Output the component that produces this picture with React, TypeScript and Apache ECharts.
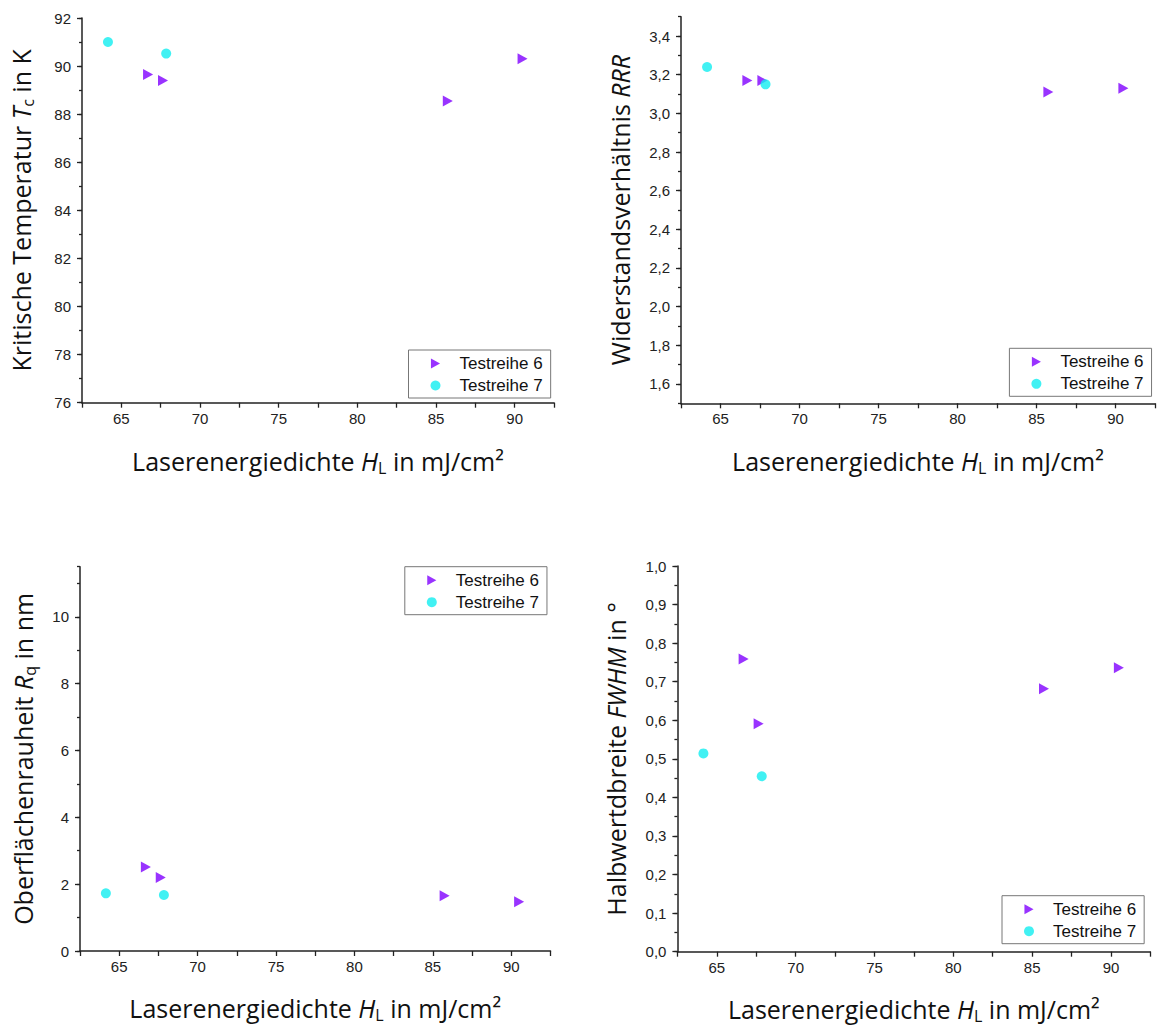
import React, { useEffect, useRef } from 'react';
import * as echarts from 'echarts';

// ---------- data ----------
const seriesNames = ['Testreihe 6', 'Testreihe 7'];
const hTR6 = [66.7, 67.65, 85.75, 90.5];
const hTR7 = [64.15, 67.85];
const tcTR6 = [89.65, 89.4, 88.55, 90.3];
const tcTR7 = [91.0, 90.52];
const rrrTR6 = [3.17, 3.17, 3.11, 3.13];
const rrrTR7 = [3.24, 3.15];
const rqTR6 = [2.51, 2.2, 1.655, 1.475];
const rqTR7 = [1.725, 1.675];
const fwhmTR6 = [0.759, 0.591, 0.682, 0.736];
const fwhmTR7 = [0.514, 0.455];

const xTickLabels = [65, 70, 75, 80, 85, 90];
const tcTickLabels = [76, 78, 80, 82, 84, 86, 88, 90, 92];
const rrrTickLabels = [1.6, 1.8, 2.0, 2.2, 2.4, 2.6, 2.8, 3.0, 3.2, 3.4];
const rqTickLabels = [0, 2, 4, 6, 8, 10];
const fwhmTickLabels = [0, 0.1, 0.2, 0.3, 0.4, 0.5, 0.6, 0.7, 0.8, 0.9, 1.0];

const C6 = '#8000ff';
const C7 = '#12eef0';
const TRI = 'path://M0,0L10,5.5L0,11Z';
const AXIS = '#222';
const LABEL_FONT = 'Liberation Sans, Arial, sans-serif';
const TITLE_FONT = 'Open Sans, sans-serif';

const xName = '{n|Laserenergiedichte }{i|H}{s|L}{n| in mJ/cm²}';

const richStyles = {
  n: { fontFamily: TITLE_FONT, fontSize: 25, lineHeight: 30, color: '#111' },
  i: { fontFamily: TITLE_FONT, fontSize: 25, lineHeight: 30, fontStyle: 'italic', color: '#111' },
  s: { fontFamily: TITLE_FONT, fontSize: 16, lineHeight: 16, verticalAlign: 'bottom', color: '#111' },
};

const panels = [
  {
    grid: { left: 82, top: 18, width: 472, height: 384.7 },
    yMin: 76, yMax: 92, yMinor: 1, majors: tcTickLabels, dec: 0,
    yName: '{n|Kritische Temperatur }{i|T}{s|c}{n| in K}', yGap: 46, xGap: 43,
    legend: { left: 408.5, top: 350 },
    y6: tcTR6, y7: tcTR7,
  },
  {
    grid: { left: 681, top: 16.7, width: 474, height: 386.6 },
    yMin: 1.5, yMax: 3.5, yMinor: 0.1, majors: rrrTickLabels, dec: 1,
    yName: '{n|Widerstandsverhältnis }{i|RRR}', yGap: 46, xGap: 43,
    legend: { left: 1009.4, top: 348.3 },
    y6: rrrTR6, y7: rrrTR7,
  },
  {
    grid: { left: 80, top: 566.7, width: 470.5, height: 384.3 },
    yMin: 0, yMax: 11.5, yMinor: 1, majors: rqTickLabels, dec: 0,
    yName: '{n|Oberflächenrauheit }{i|R}{s|q}{n| in nm}', yGap: 42, xGap: 42,
    legend: { left: 404.8, top: 566.7 },
    y6: rqTR6, y7: rqTR7,
  },
  {
    grid: { left: 677.4, top: 566, width: 473, height: 385.7 },
    yMin: 0, yMax: 1.0, yMinor: 0.05, majors: fwhmTickLabels, dec: 1,
    yName: '{n|Halbwertdbreite }{i|FWHM}{n| in °}', yGap: 46, xGap: 42,
    legend: { left: 1002, top: 895.7 },
    y6: fwhmTR6, y7: fwhmTR7,
  },
];

const isIn = (v: number, arr: number[]) => arr.some((m) => Math.abs(m - v) < 1e-6);

function buildOption() {
  const grid: any[] = [];
  const xAxis: any[] = [];
  const yAxis: any[] = [];
  const overlay: any[] = [];
  const legend: any[] = [];
  const series: any[] = [];

  panels.forEach((p, idx) => {
    grid.push({ ...p.grid, containLabel: false, outerBoundsMode: 'none' });
    xAxis.push({
      type: 'value',
      gridIndex: idx,
      min: 62.5,
      max: 92.5,
      interval: 2.5,
      name: xName,
      nameLocation: 'middle',
      nameGap: p.xGap,
      nameTextStyle: { rich: richStyles },
      axisLine: { show: true, onZero: false, lineStyle: { color: AXIS, width: 1.5 } },
      axisTick: { show: true, inside: false, length: 5, lineStyle: { color: AXIS, width: 1.3 } },
      axisLabel: {
        margin: 8,
        fontFamily: LABEL_FONT,
        fontSize: 15,
        color: '#222',
        formatter: (v: number) => (isIn(v, xTickLabels) ? String(Math.round(v)) : ''),
      },
      splitLine: { show: false },
    });
    yAxis.push({
      type: 'value',
      gridIndex: idx,
      position: 'left',
      min: p.yMin,
      max: p.yMax,
      interval: p.yMinor,
      name: p.yName,
      nameLocation: 'middle',
      nameGap: p.yGap,
      nameTextStyle: { rich: richStyles },
      axisLine: { show: true, onZero: false, lineStyle: { color: AXIS, width: 1.5 } },
      axisTick: { show: true, inside: false, length: 3, lineStyle: { color: AXIS, width: 1.3 } },
      axisLabel: {
        margin: 11,
        fontFamily: LABEL_FONT,
        fontSize: 15,
        color: '#222',
        formatter: (v: number) => (isIn(v, p.majors) ? v.toFixed(p.dec).replace('.', ',') : ''),
      },
      splitLine: { show: false },
    });
    overlay.push({
      type: 'value',
      gridIndex: idx,
      position: 'left',
      offset: 0,
      min: p.yMin,
      max: p.yMax,
      interval: p.yMinor,
      axisLine: { show: false },
      axisLabel: { show: false },
      splitLine: { show: false },
      axisTick: {
        show: true,
        inside: false,
        length: 5,
        customValues: p.majors,
        lineStyle: { color: AXIS, width: 1.3 },
      },
    });
    legend.push({
      show: true,
      data: seriesNames,
      orient: 'vertical',
      left: p.legend.left,
      top: p.legend.top,
      itemWidth: 38,
      itemHeight: 10,
      itemGap: 3,
      padding: [4, 8, 3, 22],
      borderColor: '#777',
      borderWidth: 1,
      borderRadius: 0,
      backgroundColor: '#fff',
      selectedMode: false,
      textStyle: { fontFamily: LABEL_FONT, fontSize: 17, lineHeight: 19, color: '#111' },
    });
    series.push({
      type: 'scatter',
      name: seriesNames[0],
      xAxisIndex: idx,
      yAxisIndex: idx,
      symbol: TRI,
      symbolSize: [10, 11],
      itemStyle: { color: C6 },
      data: hTR6.map((h, i) => [h, p.y6[i]]),
    });
    series.push({
      type: 'scatter',
      name: seriesNames[1],
      xAxisIndex: idx,
      yAxisIndex: idx,
      symbol: 'circle',
      symbolSize: 10,
      itemStyle: { color: C7 },
      data: hTR7.map((h, i) => [h, p.y7[i]]),
    });
  });

  return {
    animation: false,
    backgroundColor: '#fff',
    grid,
    xAxis,
    yAxis: [...yAxis, ...overlay],
    legend,
    series,
  };
}

export default function App() {
  const ref = useRef<HTMLDivElement>(null);
  useEffect(() => {
    if (!ref.current) return;
    const chart = echarts.init(ref.current, undefined, { renderer: 'svg' });
    chart.setOption(buildOption() as any);
    return () => chart.dispose();
  }, []);
  return (
    <div
      ref={ref}
      style={{ position: 'absolute', left: 0, top: 0, width: 1157, height: 1026, background: '#fff' }}
    />
  );
}
